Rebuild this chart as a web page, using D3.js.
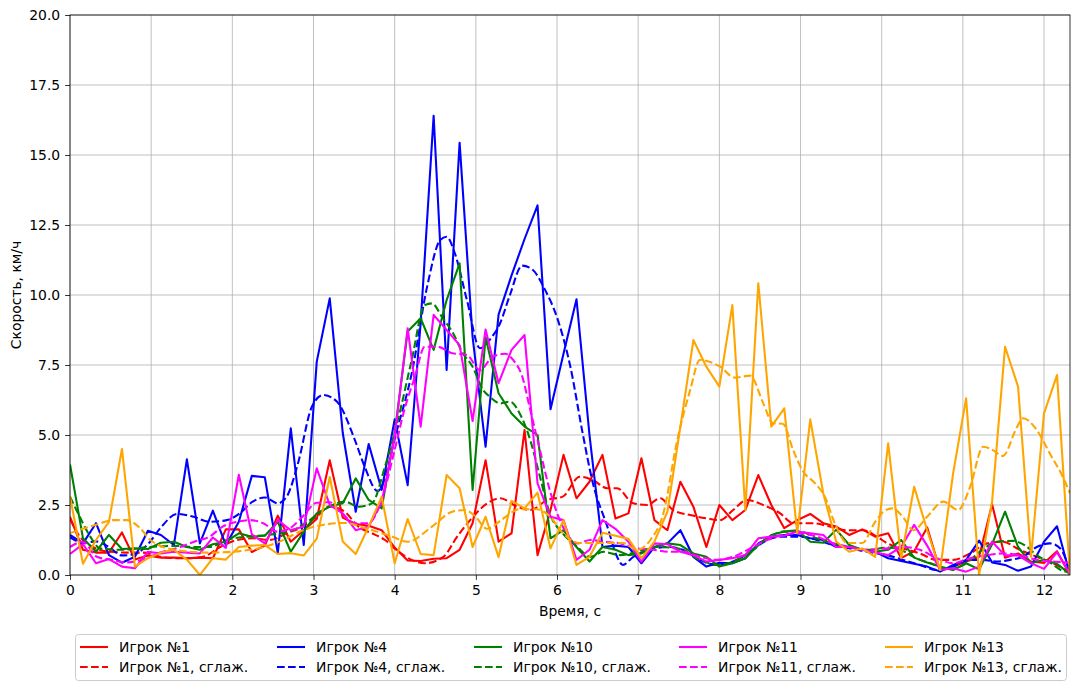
<!DOCTYPE html>
<html><head><meta charset="utf-8">
<script src="https://cdn.jsdelivr.net/npm/d3@7"></script>
<style>body{margin:0;background:#fff}text{font-family:"DejaVu Sans",sans-serif;fill:#000}</style>
</head><body><svg id="c" width="1080" height="690"></svg>
<script>
// ---- data ----
const time = [0.00,0.16,0.32,0.48,0.64,0.80,0.96,1.12,1.28,1.44,1.60,1.76,1.92,2.08,2.24,2.40,2.56,2.72,2.88,3.04,3.20,3.36,3.52,3.68,3.84,4.00,4.16,4.32,4.48,4.64,4.80,4.96,5.12,5.28,5.44,5.60,5.76,5.92,6.08,6.24,6.40,6.56,6.72,6.88,7.04,7.20,7.36,7.52,7.68,7.84,8.00,8.16,8.32,8.48,8.64,8.80,8.96,9.12,9.28,9.44,9.60,9.76,9.92,10.08,10.24,10.40,10.56,10.72,10.88,11.04,11.20,11.36,11.52,11.68,11.84,12.00,12.16,12.32];

const p1 = [2.08,0.9,0.8,0.8,1.52,0.55,0.7,0.62,0.62,0.6,0.62,0.6,1.63,1.63,0.82,1.05,2.12,1.19,1.6,2.0,4.1,2.05,1.82,1.76,1.6,0.98,0.52,0.5,0.58,0.6,0.9,1.85,4.1,1.19,1.49,5.18,0.71,2.32,4.29,2.74,3.33,4.29,2.02,2.2,4.17,1.96,1.6,3.33,2.44,1.0,2.5,1.96,2.32,3.57,2.5,1.67,1.96,2.18,1.85,1.73,1.43,1.63,1.37,1.49,0.6,0.85,1.7,0.15,0.3,0.48,0.65,2.53,0.62,0.77,0.48,0.43,0.85,0.0];
const p4 = [1.43,1.13,1.85,0.71,0.44,0.65,1.58,1.43,1.07,4.13,1.13,2.3,1.07,1.9,3.54,3.49,0.78,5.24,1.07,7.62,9.88,5.08,2.26,4.68,3.04,5.56,3.21,9.0,16.4,7.32,15.44,8.5,4.58,9.3,10.7,12.0,13.2,5.92,7.9,9.85,5.0,1.0,1.05,1.0,0.42,1.0,1.13,1.6,0.65,0.3,0.44,0.42,0.6,1.13,1.37,1.43,1.43,1.31,1.25,1.0,1.0,0.9,0.83,0.6,0.5,0.4,0.3,0.12,0.36,0.54,1.23,0.45,0.36,0.15,0.3,1.19,1.74,0.0];
const p10 = [3.95,1.31,0.83,1.43,0.93,0.95,0.93,1.15,1.19,1.0,0.9,1.1,1.19,1.49,1.37,1.4,1.9,0.83,1.55,2.2,2.44,2.56,3.45,2.68,2.38,5.06,8.7,9.17,8.04,9.82,11.13,3.04,8.49,6.49,5.77,5.3,5.0,1.31,1.6,1.0,0.48,1.0,0.9,0.71,0.77,1.0,1.13,1.07,0.77,0.65,0.3,0.42,0.6,1.07,1.43,1.55,1.6,1.19,1.15,1.62,1.07,0.9,0.83,0.9,1.25,0.62,0.45,0.3,0.18,0.42,0.2,1.1,2.26,1.0,0.42,0.54,0.4,0.03];
const p11 = [0.75,1.1,0.42,0.57,0.3,0.24,0.83,0.77,0.83,0.8,0.77,1.34,0.97,3.58,1.45,1.13,1.96,1.6,1.73,3.81,2.5,2.2,1.6,1.73,2.6,4.94,8.81,5.3,9.29,8.75,8.21,5.5,8.77,6.85,8.04,8.57,3.27,2.08,1.96,0.54,0.9,1.96,1.65,1.19,0.48,1.13,1.1,0.83,0.71,0.48,0.54,0.6,0.71,1.31,1.37,1.4,1.55,1.49,1.43,1.0,1.0,0.9,0.8,0.71,1.0,1.79,1.05,0.18,0.24,0.12,0.3,1.19,0.7,0.7,0.42,0.22,0.82,0.03];
const p13 = [2.8,0.4,1.25,1.9,4.5,0.3,0.6,0.8,0.9,0.55,0.0,0.6,0.55,1.0,1.05,1.07,0.75,0.78,0.7,1.3,3.5,1.2,0.75,1.73,2.8,0.42,2.0,0.75,0.71,3.57,3.1,1.0,2.08,0.64,2.65,2.38,2.94,0.95,1.96,0.36,0.65,1.51,1.4,1.29,0.6,1.19,2.26,5.3,8.39,7.44,6.73,9.64,2.32,10.42,5.3,5.95,1.49,5.56,2.92,1.19,0.83,0.95,0.65,4.7,0.6,3.15,1.6,0.18,3.63,6.31,0.0,2.62,8.15,6.73,0.65,5.77,7.14,0.0];

const p1sT = [0,0.12,0.28,0.49,0.70,0.90,1.11,1.32,1.44,1.64,1.85,2.06,2.26,2.46,2.67,2.87,3.04,3.20,3.39,3.55,3.72,3.88,4.04,4.21,4.37,4.60,4.77,4.93,5.14,5.30,5.51,5.67,5.88,6.07,6.28,6.44,6.62,6.74,6.94,7.11,7.27,7.43,7.64,7.85,8.01,8.17,8.34,8.54,8.75,8.91,9.15,9.36,9.57,9.77,9.94,10.07,10.26,10.47,10.68,10.88,11.09,11.30,11.49,11.70,11.91,12.11,12.32];
const p1s = [2.0,1.37,1.0,0.83,0.8,0.8,0.65,0.6,0.6,0.65,1.0,1.25,1.31,1.25,1.49,1.73,2.08,2.45,2.25,1.73,1.49,1.25,0.85,0.54,0.42,0.65,1.37,1.96,2.56,2.74,2.44,2.32,2.68,2.8,3.51,3.39,3.1,3.1,2.56,2.5,2.74,2.32,2.14,2.02,1.96,2.32,2.68,2.5,2.2,1.85,1.85,1.73,1.6,1.6,1.37,1.13,0.95,0.77,0.54,0.54,0.77,1.13,1.19,0.9,0.65,0.42,0.08];

const p4sT = [0,0.16,0.32,0.48,0.64,0.80,0.96,1.12,1.32,1.52,1.72,1.93,2.09,2.25,2.40,2.56,2.67,2.81,2.98,3.12,3.29,3.51,3.63,3.79,4.04,4.21,4.40,4.56,4.64,4.74,4.89,5.05,5.17,5.30,5.42,5.57,5.70,5.85,6.00,6.16,6.32,6.44,6.62,6.74,6.81,6.94,7.15,7.36,7.55,7.76,7.97,8.17,8.38,8.59,8.78,8.99,9.20,9.40,9.61,9.82,10.07,10.26,10.47,10.68,10.88,11.09,11.25,11.42,11.58,11.74,11.91,12.07,12.20,12.32];
const p4s = [1.35,1.15,1.2,1.0,0.7,0.75,1.1,1.7,2.18,2.08,1.9,1.96,2.2,2.62,2.77,2.56,2.8,4.0,6.01,6.43,6.19,4.82,3.87,3.0,5.3,7.2,10.3,11.96,12.08,11.5,9.82,8.1,8.4,9.0,10.0,11.05,10.9,10.2,9.2,7.5,5.0,3.3,1.73,0.65,0.36,0.65,0.9,1.0,0.9,0.54,0.36,0.48,0.83,1.25,1.37,1.37,1.25,1.07,0.95,0.83,0.71,0.54,0.36,0.18,0.3,0.54,0.54,0.48,0.54,0.65,1.0,1.13,0.95,0.1];

const p10sT = [0,0.12,0.25,0.37,0.62,0.99,1.32,1.52,1.72,1.93,2.18,2.43,2.74,2.90,3.06,3.23,3.39,3.55,3.72,3.88,4.04,4.21,4.37,4.46,4.58,4.72,4.84,4.96,5.09,5.17,5.30,5.42,5.54,5.67,5.79,5.91,6.07,6.25,6.41,6.57,6.78,6.99,7.23,7.48,7.76,7.97,8.17,8.38,8.59,8.78,8.99,9.20,9.40,9.61,9.82,10.07,10.23,10.41,10.62,10.82,11.03,11.24,11.42,11.61,11.77,11.91,12.07,12.23,12.32];
const p10s = [2.8,2.08,1.37,0.95,0.9,1.0,1.04,1.0,1.0,1.25,1.37,1.43,1.6,1.85,2.2,2.5,2.62,2.44,2.56,3.87,5.54,7.68,9.64,9.7,9.23,8.63,7.92,7.44,6.6,6.37,6.13,6.19,5.77,4.82,3.51,2.2,1.49,1.0,0.65,0.83,0.71,0.83,1.0,0.95,0.54,0.36,0.48,0.83,1.31,1.55,1.55,1.31,1.13,1.0,0.9,0.98,0.9,0.62,0.4,0.2,0.4,0.9,1.19,1.22,1.05,0.71,0.45,0.15,0.1];

const p11sT = [0,0.16,0.33,0.49,0.70,0.90,1.11,1.36,1.54,1.72,1.88,2.06,2.22,2.38,2.55,2.71,2.87,3.04,3.20,3.35,3.51,3.67,3.84,3.98,4.13,4.25,4.37,4.53,4.71,4.89,5.05,5.21,5.36,5.46,5.57,5.67,5.79,5.91,6.07,6.25,6.41,6.57,6.78,6.99,7.19,7.39,7.55,7.76,7.97,8.17,8.38,8.59,8.78,8.99,9.20,9.40,9.61,9.82,10.07,10.26,10.47,10.68,10.88,11.09,11.30,11.49,11.70,11.91,12.11,12.32];
const p11s = [1.0,1.19,0.65,0.55,0.45,0.55,0.8,1.0,1.2,1.37,1.73,1.9,1.96,1.85,1.55,1.67,2.1,2.58,2.6,2.2,1.85,1.85,2.68,4.23,6.01,7.08,8.15,8.15,7.92,7.86,7.32,7.8,7.9,7.68,7.1,5.9,4.46,3.04,1.73,1.13,1.25,1.19,1.13,0.95,0.9,0.83,0.83,0.65,0.54,0.65,0.95,1.25,1.43,1.49,1.37,1.13,1.0,0.9,0.95,1.0,0.9,0.6,0.42,0.6,0.71,0.77,0.71,0.54,0.48,0.44];

const p13sT = [0,0.33,0.53,0.70,0.86,0.99,1.29,1.72,2.22,2.59,2.87,3.02,3.39,3.63,3.97,4.16,4.46,4.71,4.87,4.99,5.14,5.33,5.54,5.75,5.91,6.07,6.28,6.57,6.81,6.99,7.15,7.31,7.48,7.64,7.76,8.01,8.19,8.38,8.54,8.66,8.78,8.91,9.02,9.18,9.30,9.42,9.58,9.76,9.92,10.04,10.13,10.26,10.39,10.56,10.76,10.94,11.09,11.25,11.37,11.49,11.67,11.74,11.91,12.07,12.23,12.32];
const p13s = [1.5,1.8,1.96,1.96,1.68,1.25,0.9,0.8,0.9,1.2,1.6,1.73,1.86,1.68,1.37,1.19,1.73,2.26,2.32,2.1,1.65,2.0,2.35,2.35,2.1,1.5,1.14,1.14,1.14,0.9,1.25,2.2,4.8,6.6,7.68,7.44,7.05,7.12,6.14,5.42,5.4,4.46,3.75,3.27,2.8,1.86,1.14,1.14,1.9,2.3,2.38,2.08,1.6,2.08,2.62,2.32,3.15,4.58,4.46,4.25,5.3,5.6,5.18,4.35,3.51,2.92];

const xTicks = [0,1,2,3,4,5,6,7,8,9,10,11,12];
const yTicks = [0,2.5,5,7.5,10,12.5,15,17.5,20];
const names = ["Игрок №1","Игрок №1, сглаж.","Игрок №4","Игрок №4, сглаж.","Игрок №10","Игрок №10, сглаж.","Игрок №11","Игрок №11, сглаж.","Игрок №13","Игрок №13, сглаж."];
const colors = ["red","red","blue","blue","green","green","#ff00ff","#ff00ff","orange","orange"];
const xLabel = "Время, с", yLabel = "Скорость, км/ч";

// ---- drawing ----
const svg = d3.select("#c");
const L=70,R=1070,T=15,B=575;
const x = d3.scaleLinear().domain([0,12.32]).range([L,R]);
const y = d3.scaleLinear().domain([0,20]).range([B,T]);
const FS = 13.9, LW = 2.08, DASH = "7.7,3.3";

svg.append("defs").append("clipPath").attr("id","clip").append("rect")
  .attr("x",L).attr("y",T).attr("width",R-L).attr("height",B-T);

// grid
const g = svg.append("g");
g.selectAll(".gx").data(xTicks).join("line")
  .attr("x1",d=>x(d)).attr("x2",d=>x(d)).attr("y1",T).attr("y2",B)
  .attr("stroke","#b0b0b0").attr("stroke-width",0.8);
g.selectAll(".gy").data(yTicks).join("line")
  .attr("y1",d=>y(d)).attr("y2",d=>y(d)).attr("x1",L).attr("x2",R)
  .attr("stroke","#b0b0b0").attr("stroke-width",0.8);

// series
const series = [
  {t:time, v:p1, s:false},{t:p1sT, v:p1s, s:true},
  {t:time, v:p4, s:false},{t:p4sT, v:p4s, s:true},
  {t:time, v:p10, s:false},{t:p10sT, v:p10s, s:true},
  {t:time, v:p11, s:false},{t:p11sT, v:p11s, s:true},
  {t:time, v:p13, s:false},{t:p13sT, v:p13s, s:true}
];
const lines = svg.append("g").attr("clip-path","url(#clip)");
series.forEach((se,k)=>{
  const pts = se.t.map((t,i)=>[t,se.v[i]]);
  const gen = d3.line().x(d=>x(d[0])).y(d=>y(d[1]))
     .curve(se.s ? d3.curveMonotoneX : d3.curveLinear);
  lines.append("path").attr("d",gen(pts)).attr("fill","none")
    .attr("stroke",colors[k]).attr("stroke-width",LW)
    .attr("stroke-linejoin","round")
    .attr("stroke-dasharray", se.s ? DASH : null);
});

// axes
const ax = svg.append("g").attr("transform",`translate(0,${B})`)
  .call(d3.axisBottom(x).tickValues(xTicks).tickFormat(d3.format("d")).tickSize(4.9).tickSizeOuter(0).tickPadding(4.9));
const ay = svg.append("g").attr("transform",`translate(${L},0)`)
  .call(d3.axisLeft(y).tickValues(yTicks).tickFormat(d3.format(".1f")).tickSize(4.9).tickSizeOuter(0).tickPadding(4.9));
[ax,ay].forEach(a=>{
  a.select(".domain").remove();
  a.selectAll("line").attr("stroke","#000").attr("stroke-width",0.8);
  a.selectAll("text").attr("font-size",FS).attr("font-family","DejaVu Sans").attr("fill","#000");
});
// frame
svg.append("rect").attr("x",L).attr("y",T).attr("width",R-L).attr("height",B-T)
  .attr("fill","none").attr("stroke","#000").attr("stroke-width",0.8);

svg.append("text").attr("x",(L+R)/2).attr("y",616).attr("text-anchor","middle")
  .attr("font-size",FS).text(xLabel);
svg.append("text").attr("transform",`translate(21,${(T+B)/2}) rotate(-90)`)
  .attr("text-anchor","middle").attr("font-size",FS).text(yLabel);

// legend
const lg = svg.append("g");
lg.append("rect").attr("x",75.5).attr("y",634.5).attr("width",991).attr("height",46)
  .attr("rx",3).attr("fill","#fff").attr("fill-opacity",0.8).attr("stroke","#cccccc").attr("stroke-width",1);
const colX = [80,277,474,679,885];
names.forEach((n,k)=>{
  const c = Math.floor(k/2), r = k%2;
  const yy = 647 + r*20;
  lg.append("line").attr("x1",colX[c]).attr("x2",colX[c]+28).attr("y1",yy).attr("y2",yy)
    .attr("stroke",colors[k]).attr("stroke-width",LW)
    .attr("stroke-dasharray", r ? DASH : null);
  lg.append("text").attr("x",colX[c]+39).attr("y",yy+5).attr("font-size",FS).text(n);
});
</script></body></html>
